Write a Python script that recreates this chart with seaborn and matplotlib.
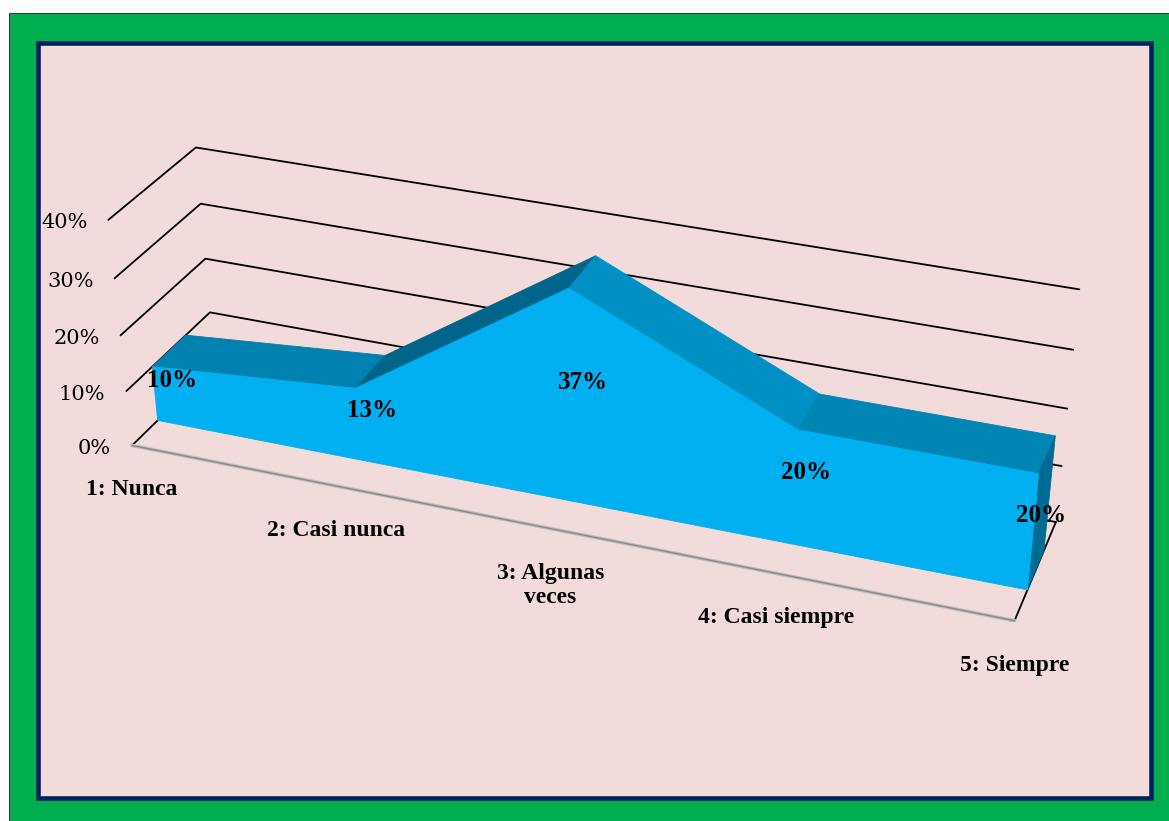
import numpy as np
import pandas as pd
import matplotlib
matplotlib.use("Agg")
import matplotlib.pyplot as plt
from matplotlib.patches import Rectangle, Polygon
from matplotlib.colors import to_rgb
import seaborn as sns

# ---- data -------------------------------------------------------------
categories = ["1: Nunca", "2: Casi nunca", "3: Algunas\nveces", "4: Casi siempre", "5: Siempre"]
values = [0.10, 0.13, 0.37, 0.20, 0.20]
value_labels = ["10%", "13%", "37%", "20%", "20%"]
y_ticks = [0.0, 0.1, 0.2, 0.3, 0.4]
y_tick_labels = ["0%", "10%", "20%", "30%", "40%"]

# ---- style --------------------------------------------------------------
GREEN = "#00B050"
NAVY = "#002060"
PINK = "#F2DCDB"
AREA = "#00B0F0"
W, H = 1169, 821

sns.set_style("white")
plt.rcParams["font.family"] = ["DejaVu Serif"]

fig = plt.figure(figsize=(W / 100, H / 100), dpi=100, facecolor="white")
ax = fig.add_axes([0, 0, 1, 1])

# outer green band and the pink chart area with its navy frame
ax.add_patch(Rectangle((8.5, 13.5), W, H, facecolor=GREEN, edgecolor="#3a3a3a",
                       lw=0.8, zorder=0))
ax.add_patch(Rectangle((38.2, 42.6), 1112.4, 755, facecolor=PINK, edgecolor=NAVY,
                       lw=3.3, zorder=0.5))

# ---- 3-D frame and perspective camera ---------------------------------
# world: x = category index, y = depth (0 front .. 1 back), z = value
n = len(categories)
x_max = n - 1
z_max = y_ticks[-1]
frame_world = [(0, 0, z_max), (0, 0, 0), (0, 1, z_max), (0, 1, 0),
               (x_max, 1, z_max), (x_max, 1, 0), (x_max, 0, 0)]
frame_px = [(108.3, 221), (131.7, 445), (196, 146.7), (214.7, 365),
            (1079.3, 289), (1055.5, 523), (1015, 620)]


def fit_camera(world, px):
    rows = []
    for (X, Y, Z), (u, v) in zip(world, px):
        X, Z = X / x_max, Z / z_max
        u, v = u / 1000, v / 1000
        rows.append([X, Y, Z, 1, 0, 0, 0, 0, -u * X, -u * Y, -u * Z, -u])
        rows.append([0, 0, 0, 0, X, Y, Z, 1, -v * X, -v * Y, -v * Z, -v])
    _, _, vt = np.linalg.svd(np.array(rows, float))
    return vt[-1].reshape(3, 4)


P = fit_camera(frame_world, frame_px)


def project(X, Y, Z):
    X, Y, Z = np.broadcast_arrays(np.asarray(X, float), np.asarray(Y, float),
                                  np.asarray(Z, float))
    hom = np.stack([X / x_max, Y, Z / z_max, np.ones_like(X)])
    h = np.tensordot(P, hom, axes=1)
    return 1000 * h[0] / h[2], 1000 * h[1] / h[2]


# ---- walls: gridlines on the side and back walls ----------------------
rows = []
for k, z in enumerate(y_ticks):
    pts = [(0, 0, z), (0, 1, z), (x_max, 1, z)]
    for j, (X, Y, Z) in enumerate(pts):
        u, v = project(X, Y, Z)
        rows.append({"line": f"g{k}", "order": j, "u": float(u), "v": float(v)})
# depth axis at the right end of the floor
for j, Y in enumerate([0, 1]):
    u, v = project(x_max, Y, 0)
    rows.append({"line": "depth", "order": j, "u": float(u), "v": float(v)})
grid_df = pd.DataFrame(rows)
sns.lineplot(data=grid_df, x="u", y="v", units="line", estimator=None, sort=False,
             color="black", lw=1.3, ax=ax, zorder=1)

# front edge of the floor (category axis)
fx, fy = project([0, x_max], [0, 0], [0, 0])
floor_df = pd.DataFrame({"u": fx, "v": fy})
sns.lineplot(data=floor_df, x="u", y="v", estimator=None, sort=False,
             color="#bdbdbd", lw=2.6, ax=ax, zorder=1)
sns.lineplot(data=floor_df, x="u", y="v", estimator=None, sort=False,
             color="#8a8a8a", lw=1.0, ax=ax, zorder=1.1)

# ---- the area series as a slab ----------------------------------------
DEPTH_FRONT, DEPTH_BACK = 0.3, 0.7
LIGHT = np.radians(32)
AMBIENT, DIFFUSE = 0.38, 0.44
VALUE_ASPECT = 2.6          # one value unit relative to one category step
base = np.array(to_rgb(AREA))


def shade(nx, nz):
    cosang = (nx * np.sin(LIGHT) + nz * np.cos(LIGHT)) / np.hypot(nx, nz)
    return tuple(np.clip(base * (AMBIENT + DIFFUSE * cosang), 0, 1))


xs = np.arange(n)
vals = np.array(values)

# top faces
for i in range(n - 1):
    slope = (vals[i + 1] - vals[i]) * VALUE_ASPECT
    qx = [i, i + 1, i + 1, i]
    qy = [DEPTH_FRONT, DEPTH_FRONT, DEPTH_BACK, DEPTH_BACK]
    qz = [vals[i], vals[i + 1], vals[i + 1], vals[i]]
    u, v = project(qx, qy, qz)
    c = shade(-slope, 1.0)
    ax.add_patch(Polygon(np.column_stack([u, v]), closed=True, facecolor=c,
                         edgecolor=c, lw=0.6, zorder=2))

# right end cap
u, v = project([x_max] * 4, [DEPTH_FRONT, DEPTH_FRONT, DEPTH_BACK, DEPTH_BACK],
               [0, vals[-1], vals[-1], 0])
c = shade(1.0, 0.0)
ax.add_patch(Polygon(np.column_stack([u, v]), closed=True, facecolor=c,
                     edgecolor=c, lw=0.6, zorder=2))

# front face
px_ = np.concatenate([[0], xs, [x_max]])
pz_ = np.concatenate([[0], vals, [0]])
u, v = project(px_, DEPTH_FRONT, pz_)
ax.add_patch(Polygon(np.column_stack([u, v]), closed=True, facecolor=AREA,
                     edgecolor=AREA, lw=0.6, zorder=2.1))

# ---- text ---------------------------------------------------------------
for z, lab in zip(y_ticks, y_tick_labels):
    u, v = project(0, 0, z)
    ax.text(float(u) - 21, float(v) + 3, lab, ha="right", va="center",
            fontsize=15, family="DejaVu Serif", color="black", zorder=3)

for i, lab in enumerate(categories):
    u, v = project(i, 0, 0)
    ax.text(float(u), float(v) + 34, lab, ha="center", va="top", fontsize=17,
            family="Liberation Serif", fontweight="bold", linespacing=1.2,
            color="black", zorder=3)

mid_depth = 0.5 * (DEPTH_FRONT + DEPTH_BACK)
for i, (val, lab) in enumerate(zip(values, value_labels)):
    u, v = project(i, mid_depth, val / 2)
    ax.text(float(u), float(v) + 3, lab, ha="center", va="center", fontsize=18,
            family="Liberation Serif", fontweight="bold", color="black", zorder=3)

ax.set_xlim(0, W)
ax.set_ylim(H, 0)
ax.axis("off")
if ax.get_legend() is not None:
    ax.get_legend().remove()

fig.savefig("out.png", dpi=100, facecolor="white")
